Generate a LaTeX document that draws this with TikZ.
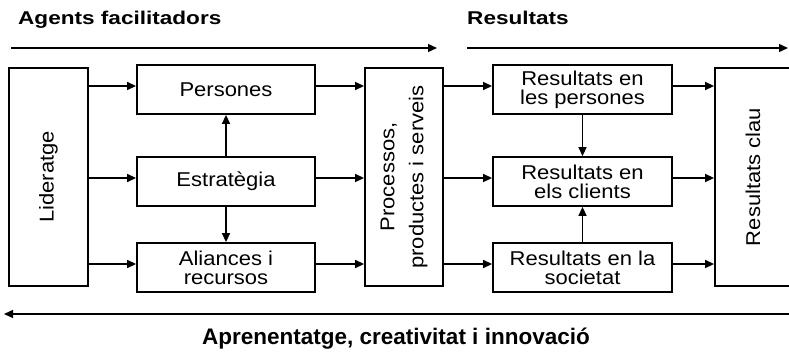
\documentclass[tikz,border=0pt]{standalone}
\usepackage{fontspec}
\setmainfont{Liberation Sans}[FakeStretch=1.1]
\newfontfamily\headfont{Liberation Sans}[FakeStretch=1.22]
\newfontfamily\footfont{Liberation Sans}
\usetikzlibrary{arrows.meta}

\begin{document}
\begin{tikzpicture}[x=1pt,y=-1pt,
  every node/.style={font=\fontsize{20}{19}\selectfont},
  bx/.style={draw,line width=1.8pt,inner sep=0pt,align=center,minimum width=178pt,minimum height=49pt},
  col/.style={draw,line width=1.8pt,inner sep=0pt,align=center,rotate=90,minimum width=218pt,minimum height=78pt},
  head/.style={font=\headfont\bfseries\fontsize{18.5}{20}\selectfont,inner sep=0pt},
  foot/.style={font=\footfont\bfseries\fontsize{22.5}{24}\selectfont,inner sep=0pt},
  ar/.style={line width=1.4pt,-{Triangle[length=9pt,width=8pt]}}]
 \useasboundingbox (0,0) rectangle (789,353);
 \clip (0,0) rectangle (789,353);
 \node[col,minimum height=79pt] (lid) at (48.5,177) {Lideratge};
 \node[bx] (pers) at (226,89.5) {Persones};
 \node[bx] (estr) at (226,181.5) {Estratègia};
 \node[bx] (alia) at (226,267.5) {Aliances i\\recursos};
 \node[col,font=\fontsize{20}{29}\selectfont] (proc) at (404,177) {Processos,\\productes i serveis};
 \node[bx,minimum width=179pt] (rpers) at (582.5,89.5) {Resultats en\\les persones};
 \node[bx,minimum width=179pt] (rcli) at (582.5,181.5) {Resultats en\\els clients};
 \node[bx,minimum width=179pt] (rsoc) at (582.5,267.5) {Resultats en la\\societat};
 \node[col,minimum height=76pt] (rclau) at (753,177) {Resultats clau};
 \node[head,anchor=base west] (tagents) at (18,25) {Agents facilitadors};
 \node[head,anchor=base west] (tres) at (467,25) {Resultats};
 \node[foot,anchor=base] (tapren) at (396,344) {Aprenentatge, creativitat i innovació};
 \coordinate (a1) at (11,48);
 \coordinate (a2) at (437,48);
 \coordinate (r1) at (467,48);
 \coordinate (r2) at (788,48);
 \coordinate (b1) at (790,314);
 \coordinate (b2) at (4,314);
 \foreach \a/\b in {a1/a2,r1/r2,b1/b2}
   \draw[ar] (\a)--(\b);
 \foreach \b in {pers,estr,alia}
   \draw[ar] ([yshift=3.5pt]\b.west -| lid.south)--([yshift=3.5pt]\b.west);
 \foreach \a in {pers,estr,alia}
   \draw[ar] ([yshift=3.5pt]\a.east)--([yshift=3.5pt]\a.east -| proc.north);
 \foreach \b in {rpers,rcli,rsoc}
   \draw[ar] ([yshift=3.5pt]\b.west -| proc.south)--([yshift=3.5pt]\b.west);
 \foreach \a in {rpers,rcli,rsoc}
   \draw[ar] ([yshift=3.5pt]\a.east)--([yshift=3.5pt]\a.east -| rclau.north);
 \foreach \a/\b in {estr/pers,estr/alia,rpers/rcli,rsoc/rcli}
   \draw[ar] (\a)--(\b);
\end{tikzpicture}
\end{document}
